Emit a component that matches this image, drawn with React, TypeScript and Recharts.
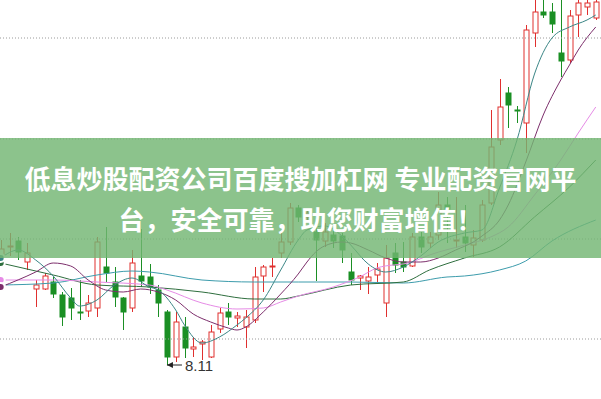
import React from 'react';
import { ComposedChart, Bar, Line, XAxis, YAxis, ReferenceLine, Scatter } from 'recharts';

// daily candles, oldest first
const opens = [
  9.18, 9.29, 9.35, 9.14, 8.87, 8.87, 8.94, 8.81, 8.78, 8.64,
  8.65, 8.68, 9.09, 8.94, 8.78, 8.68, 9.0, 8.99, 8.86, 8.64,
  8.19, 8.49, 8.27, 8.32, 8.19, 8.47, 8.64, 8.58, 8.49, 8.56,
  9.0, 9.09, 9.23, 9.34, 9.68, 9.59, 9.44, 9.35, 9.41, 9.4,
  9.04, 8.98, 8.95, 9.01, 8.73, 9.23, 9.14, 9.1, 9.39, 9.33,
  9.41, 9.71, 9.35, 9.39, 9.31, 9.36, 9.73, 10.36, 10.83, 10.66,
  10.53, 11.43, 11.64, 11.64, 11.23, 11.16, 11.61, 11.69, 11.58,
];
const closes = [
  9.27, 9.3, 9.24, 9.23, 8.91, 9.0, 8.82, 8.59, 8.68, 8.63,
  8.73, 9.34, 9.03, 8.79, 8.64, 9.13, 8.95, 8.89, 8.73, 8.19,
  8.54, 8.28, 8.29, 8.34, 8.44, 8.63, 8.59, 8.6, 8.59, 8.99,
  9.09, 9.1, 9.34, 9.68, 9.59, 9.63, 9.36, 9.44, 9.35, 9.26,
  8.96, 9.0, 8.99, 9.07, 9.18, 9.11, 9.09, 9.39, 9.29, 9.39,
  9.71, 9.67, 9.36, 9.33, 9.38, 9.71, 10.29, 10.69, 10.71, 10.65,
  11.46, 11.64, 11.61, 11.52, 11.15, 11.6, 11.73, 11.73, 11.74,
];
const highs = [
  9.36, 9.43, 9.39, 9.33, 8.96, 9.03, 8.99, 8.84, 8.88, 8.96,
  8.81, 9.39, 9.49, 9.09, 8.79, 9.26, 9.47, 9.12, 8.91, 8.66,
  8.64, 8.59, 8.39, 8.36, 8.51, 8.68, 8.73, 8.64, 8.66, 9.09,
  9.11, 9.18, 9.44, 9.73, 9.71, 9.66, 9.68, 9.53, 9.49, 9.43,
  9.23, 9.01, 9.09, 9.13, 9.31, 9.33, 9.34, 9.43, 9.44, 9.44,
  9.84, 9.79, 9.79, 9.71, 9.46, 9.76, 10.66, 10.97, 10.89, 10.7,
  11.51, 11.78, 11.78, 11.73, 11.79, 11.66, 11.79, 11.78, 11.8,
];
const lows = [
  9.14, 9.2, 9.16, 9.06, 8.69, 8.86, 8.78, 8.5, 8.56, 8.56,
  8.59, 8.59, 8.94, 8.69, 8.46, 8.64, 8.89, 8.82, 8.59, 8.11,
  8.14, 8.18, 8.19, 8.16, 8.18, 8.43, 8.51, 8.49, 8.28, 8.53,
  8.84, 8.99, 9.18, 9.31, 9.54, 9.54, 8.95, 9.29, 9.28, 9.13,
  8.91, 8.86, 8.82, 8.94, 8.59, 9.03, 9.04, 9.09, 9.23, 9.28,
  9.36, 9.33, 9.28, 9.24, 9.19, 9.34, 9.71, 10.31, 10.48, 10.53,
  10.23, 11.29, 11.58, 11.43, 10.99, 11.13, 11.39, 11.61, 11.56,
];

// moving averages: [day index, price]
const ma5 = [
  [0, 9.18], [2, 9.26], [4, 9.16], [6, 9.0], [8, 8.78], [9, 8.7], [11, 8.76], [13, 8.91],
  [15, 8.98], [17, 8.89], [18, 8.86], [20, 8.66], [21, 8.51], [23, 8.33], [25, 8.39],
  [27, 8.51], [28, 8.58], [30, 8.76], [32, 9.06], [34, 9.36], [35, 9.46], [37, 9.5],
  [39, 9.4], [40, 9.31], [42, 9.12], [44, 9.04], [46, 9.09], [48, 9.2], [50, 9.34],
  [53, 9.43], [55, 9.46], [57, 9.88], [59, 10.36], [61, 11.02], [63, 11.38], [65, 11.49],
  [67, 11.56], [68, 11.61],
];
const ma10 = [
  [0, 8.89], [4, 9.04], [6, 9.13], [8, 9.1], [10, 8.96], [12, 8.86], [14, 8.84], [16, 8.87],
  [18, 8.84], [20, 8.76], [22, 8.62], [24, 8.54], [26, 8.48], [27, 8.46], [28, 8.49],
  [30, 8.64], [32, 8.82], [34, 9.02], [35, 9.14], [36, 9.24], [37, 9.3], [39, 9.34],
  [40, 9.33], [42, 9.26], [44, 9.18], [46, 9.14], [48, 9.14], [50, 9.18], [52, 9.26],
  [54, 9.34], [55, 9.4], [57, 9.56], [58, 9.71], [60, 10.14], [62, 10.61], [64, 10.96],
  [65, 11.11], [66, 11.26], [68, 11.49],
];
const ma20 = [
  [0, 8.96], [6, 8.96], [11, 8.94], [17, 8.91], [19, 8.86], [23, 8.73], [27, 8.67],
  [30, 8.68], [32, 8.74], [34, 8.8], [38, 8.89], [41, 8.99], [43, 9.08], [47, 9.14],
  [49, 9.21], [53, 9.31], [56, 9.39], [58, 9.49], [61, 9.81], [64, 10.16], [66, 10.43],
  [68, 10.69],
];
const ma30 = [
  [0, 9.13], [6, 9.01], [11, 8.91], [17, 8.89], [23, 8.84], [29, 8.77], [32, 8.77],
  [34, 8.8], [40, 8.91], [46, 8.94], [49, 9.06], [53, 9.18], [57, 9.29], [61, 9.59],
  [65, 9.89], [68, 10.16],
];
const ma60 = [
  [0, 8.91], [6, 8.93], [11, 9.01], [15, 9.05], [17, 9.04], [23, 8.96], [29, 8.94],
  [34, 8.94], [40, 8.94], [46, 8.93], [51, 8.99], [53, 9.0], [57, 9.06], [60, 9.15],
  [63, 9.35], [68, 9.56],
];

const gridPrices = [11.38, 10.37, 9.37, 8.37];
const lowMark = [{ i: 19, v: 8.11 }];
const titleLines = ['低息炒股配资公司百度搜加杠网 专业配资官网平', '台，安全可靠，助您财富增值！'];

const UP = '#e0302f';
const DOWN = '#1b8f24';

const rows: any[] = opens.map((o, i) => ({
  i,
  o,
  c: closes[i],
  h: highs[i],
  l: lows[i],
  range: [lows[i], highs[i]],
}));
([['ma5', ma5], ['ma10', ma10], ['ma20', ma20], ['ma30', ma30], ['ma60', ma60]] as any[]).forEach(
  ([key, pts]) => pts.forEach(([i, v]: number[]) => { rows[i][key] = v; })
);

const Candle = (props: any) => {
  const { x, y, width, height, payload } = props;
  if (x == null || y == null) return null;
  const top = Math.min(y, y + height);
  const bot = Math.max(y, y + height);
  const { o, c, h, l } = payload;
  const py = (v: number) => top + ((h - v) / (h - l)) * (bot - top);
  const cx = Math.round(x + width / 2) + 0.5;
  const up = c >= o;
  const color = up ? UP : DOWN;
  const bt = py(Math.max(o, c));
  const bb = py(Math.min(o, c));
  return (
    <g>
      <line x1={cx} y1={top} x2={cx} y2={bt} stroke={color} />
      <line x1={cx} y1={bb} x2={cx} y2={bot} stroke={color} />
      <rect
        x={cx - 2.5}
        y={bt}
        width={5}
        height={Math.max(bb - bt, 1)}
        fill={up ? '#fff' : color}
        stroke={color}
      />
    </g>
  );
};

const LowLabel = (props: any) => {
  const { cx, cy } = props;
  return (
    <g>
      <line x1={cx} y1={cy} x2={cx + 15} y2={cy} stroke="#222" />
      <path d={`M${cx},${cy} l6,-3 l0,6 z`} fill="#222" />
      <text x={cx + 18} y={cy + 5.5} fontSize={15} fill="#333" fontFamily="'Liberation Sans', Arial">
        8.11
      </text>
    </g>
  );
};

export default function App() {
  return (
    <div style={{ position: 'absolute', left: 0, top: 0, width: 601, height: 399, background: '#fff', overflow: 'hidden' }}>
      <ComposedChart width={601} height={399} data={rows} margin={{ top: 0, right: 0, bottom: 0, left: 0 }}>
        <XAxis type="number" dataKey="i" domain={[-0.08, 68.6]} allowDataOverflow hide />
        <YAxis type="number" domain={[7.77, 11.76]} allowDataOverflow hide />
        {gridPrices.map((p) => (
          <ReferenceLine key={p} y={p} stroke="#9a9a9a" strokeDasharray="1 2" />
        ))}
        <Bar dataKey="range" barSize={7} shape={<Candle />} isAnimationActive={false} />
        <Line dataKey="ma60" type="monotone" stroke="#3d9cac" dot={false} connectNulls isAnimationActive={false} />
        <Line dataKey="ma30" type="monotone" stroke="#2e6e3e" dot={false} connectNulls isAnimationActive={false} />
        <Line dataKey="ma20" type="monotone" stroke="#e68be6" dot={false} connectNulls isAnimationActive={false} />
        <Line dataKey="ma10" type="monotone" stroke="#7d2f6c" dot={false} connectNulls isAnimationActive={false} />
        <Line dataKey="ma5" type="monotone" stroke="#3b8686" dot={false} connectNulls isAnimationActive={false} />
        <Scatter data={lowMark} dataKey="v" shape={<LowLabel />} isAnimationActive={false} />
      </ComposedChart>
      <div style={{ position: 'absolute', left: 0, top: 138, width: 601, height: 120, background: 'rgba(115,182,115,0.82)' }} />
      {titleLines.map((t, k) => (
        <div
          key={k}
          style={{
            position: 'absolute',
            left: 0,
            width: 601,
            top: k === 0 ? 164 : 205,
            textAlign: 'center',
            whiteSpace: 'nowrap',
            fontFamily: '"Noto Sans CJK SC", sans-serif',
            fontSize: 26,
            lineHeight: '28px',
            fontWeight: 700,
            color: '#fff',
          }}
        >
          {t}
        </div>
      ))}
    </div>
  );
}
